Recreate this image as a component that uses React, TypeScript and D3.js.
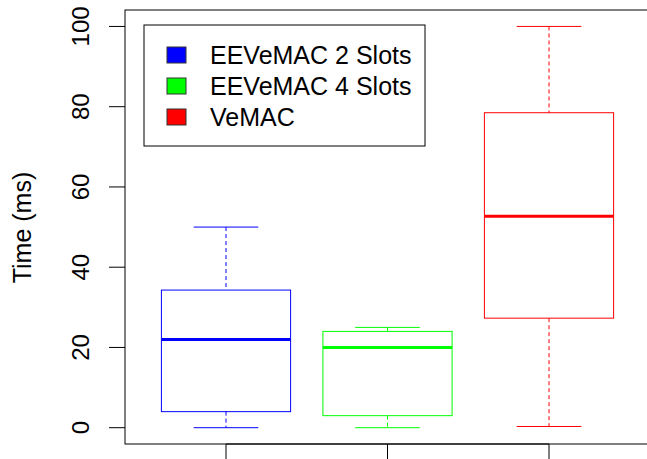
import React from "react";
import * as d3 from "d3";

const categories = ["EEVeMAC 2 Slots", "EEVeMAC 4 Slots", "VeMAC"];
const colors = ["#0000FF", "#00FF00", "#FF0000"];
const lowerWhisker = [0, 0, 0.3];
const q1 = [4, 3, 27.3];
const medians = [22, 20, 52.7];
const q3 = [34.3, 24, 78.5];
const upperWhisker = [50, 25, 100];
const yTicks = [0, 20, 40, 60, 80, 100];

const W = 647;
const H = 459;
const FONT = "'Liberation Sans', Arial, Helvetica, sans-serif";

export default function App() {
  const y = d3.scaleLinear().domain([0, 100]).range([427.7, 26.45]);
  const x = d3.scaleLinear().domain([0, 2]).range([226, 549]);
  const step = x(1) - x(0);
  const boxHalf = step * 0.4;
  const capHalf = boxHalf / 2;
  const frame = { left: 125, top: 10, right: 700, bottom: 444 };

  return (
    <svg
      width={W}
      height={H}
      style={{ position: "absolute", left: 0, top: 0, background: "#fff" }}
      fontFamily={FONT}
    >
      <rect x={0} y={0} width={W} height={H} fill="#fff" />
      {categories.map((c, i) => {
        const cx = x(i);
        const col = colors[i];
        return (
          <g key={c}>
            <line x1={cx} x2={cx} y1={y(upperWhisker[i])} y2={y(q3[i])} stroke={col} strokeDasharray="4,3" />
            <line x1={cx} x2={cx} y1={y(q1[i])} y2={y(lowerWhisker[i])} stroke={col} strokeDasharray="4,3" />
            <line x1={cx - capHalf} x2={cx + capHalf} y1={y(upperWhisker[i])} y2={y(upperWhisker[i])} stroke={col} />
            <line x1={cx - capHalf} x2={cx + capHalf} y1={y(lowerWhisker[i])} y2={y(lowerWhisker[i])} stroke={col} />
            <rect
              x={cx - boxHalf}
              y={y(q3[i])}
              width={boxHalf * 2}
              height={y(q1[i]) - y(q3[i])}
              fill="none"
              stroke={col}
            />
            <line x1={cx - boxHalf} x2={cx + boxHalf} y1={y(medians[i])} y2={y(medians[i])} stroke={col} strokeWidth={3} />
          </g>
        );
      })}
      <rect
        x={frame.left}
        y={frame.top}
        width={frame.right - frame.left}
        height={frame.bottom - frame.top}
        fill="none"
        stroke="#000"
      />
      {/* y axis */}
      {yTicks.map((t) => (
        <g key={t}>
          <line x1={109} x2={frame.left} y1={y(t)} y2={y(t)} stroke="#000" />
          <text
            transform={`translate(88.5,${y(t)}) rotate(-90)`}
            textAnchor="middle"
            fontSize={24}
            fill="#000"
          >
            {t}
          </text>
        </g>
      ))}
      {/* x axis */}
      <line x1={x(0)} x2={x(2)} y1={frame.bottom} y2={frame.bottom} stroke="#000" />
      {categories.map((c, i) => (
        <line key={c} x1={x(i)} x2={x(i)} y1={frame.bottom} y2={frame.bottom + 16} stroke="#000" />
      ))}
      <text
        transform={`translate(31,227.5) rotate(-90)`}
        textAnchor="middle"
        fontSize={25}
        fill="#000"
      >
        Time (ms)
      </text>
      {/* legend */}
      <rect x={144} y={25} width={281} height={121} fill="#fff" stroke="#000" />
      {categories.map((c, i) => {
        const cy = 55 + i * 31;
        return (
          <g key={c}>
            <rect x={167} y={cy - 8} width={19} height={16} fill={colors[i]} stroke="#333" />
            <text x={210} y={cy} dy="0.36em" fontSize={25} fill="#000">
              {c}
            </text>
          </g>
        );
      })}
    </svg>
  );
}
